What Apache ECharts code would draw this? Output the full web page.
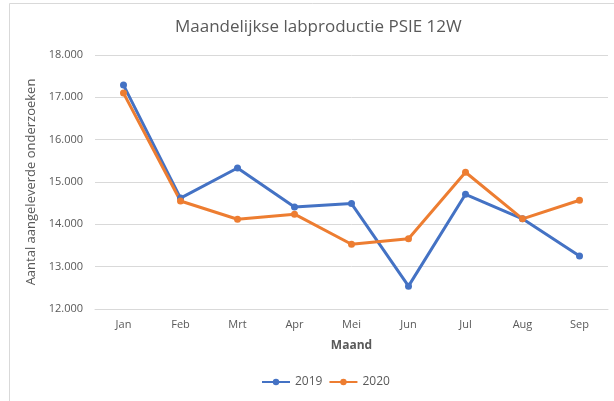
<!DOCTYPE html>
<html>
<head>
<meta charset="utf-8">
<script src="https://cdn.jsdelivr.net/npm/echarts@6/dist/echarts.min.js"></script>
<style>
    html, body { margin: 0; padding: 0; background: #fff; }
    #chart { width: 614px; height: 401px; }
</style>
</head>
<body>
<div id="chart"></div>
<script>
const months = ['Jan', 'Feb', 'Mrt', 'Apr', 'Mei', 'Jun', 'Jul', 'Aug', 'Sep'];
const values2019 = [17290, 14620, 15330, 14410, 14490, 12540, 14710, 14130, 13250];
const values2020 = [17100, 14550, 14120, 14240, 13530, 13660, 15230, 14130, 14570];

const textColor = '#595959';
const fontName = '"Open Sans", "Liberation Sans", sans-serif';

var lineSeries = (name, data, color) => {
    return {
        name: name,
        type: 'line',
        data: data,
        symbol: 'circle',
        symbolSize: 7,
        itemStyle: { color: color },
        lineStyle: { color: color, width: 3 },
        emphasis: { disabled: true }
    };
};

var chart = echarts.init(document.getElementById('chart'), null, { renderer: 'canvas' });

chart.setOption({
    backgroundColor: '#fff',
    animation: false,
    textStyle: { fontFamily: fontName },
    title: {
        text: 'Maandelijkse labproductie PSIE 12W',
        left: 170,
        top: 14,
        textStyle: { fontSize: 17, fontWeight: 'normal', color: textColor, fontFamily: fontName }
    },
    graphic: [{
        type: 'rect',
        shape: { x: 9.5, y: 3.5, width: 620, height: 420 },
        style: { fill: 'none', stroke: '#d9d9d9', lineWidth: 1 },
        silent: true
    }],
    grid: { left: 95, right: 6, top: 55, bottom: 92 },
    legend: {
        bottom: 8,
        left: 256,
        itemWidth: 28,
        itemHeight: 8,
        itemGap: 6,
        textStyle: { fontSize: 12, color: textColor },
        data: ['2019', '2020']
    },
    xAxis: {
        type: 'category',
        data: months,
        name: 'Maand',
        nameLocation: 'middle',
        nameGap: 31,
        nameTextStyle: { fontSize: 12, fontWeight: 'bold', color: textColor },
        axisLine: { show: true, lineStyle: { color: '#d9d9d9' } },
        axisTick: { show: false },
        axisLabel: { color: textColor, fontSize: 11, margin: 10 }
    },
    yAxis: {
        type: 'value',
        min: 12000,
        max: 18000,
        interval: 1000,
        name: 'Aantal aangeleverde onderzoeken',
        nameLocation: 'middle',
        nameGap: 51,
        nameTextStyle: { fontSize: 13, fontWeight: 'normal', color: textColor },
        axisLine: { show: false },
        axisTick: { show: false },
        axisLabel: {
            color: textColor,
            fontSize: 11,
            margin: 12,
            formatter: (v) => (v / 1000).toFixed(3)
        },
        splitLine: { lineStyle: { color: '#d9d9d9', width: 1 } }
    },
    series: [
        lineSeries('2019', values2019, '#4472C4'),
        lineSeries('2020', values2020, '#ED7D31')
    ]
});
</script>
</body>
</html>
